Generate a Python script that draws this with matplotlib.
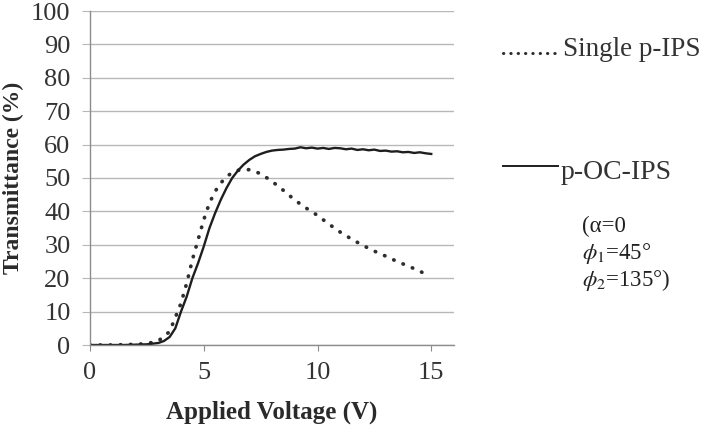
import matplotlib
matplotlib.use("Agg")
import matplotlib.pyplot as plt
from matplotlib.lines import Line2D

plt.rcParams['font.family'] = ['Liberation Serif', 'DejaVu Serif']
plt.rcParams['mathtext.fontset'] = 'stix'

# p-OC-IPS (solid)
oc_v = [0, 0.5, 1, 1.5, 2, 2.5, 3, 3.25, 3.5, 3.75, 4, 4.25, 4.5, 4.75, 5,
        5.25, 5.5, 5.75, 6, 6.25, 6.5, 6.75, 7, 7.25, 7.5, 7.75, 8, 8.25,
        8.5, 8.75, 9, 9.25, 9.5, 9.75, 10, 10.25, 10.5, 10.75, 11, 11.25,
        11.5, 11.75, 12, 12.25, 12.5, 12.75, 13, 13.25, 13.5, 13.75, 14,
        14.25, 14.5, 14.75, 15]
oc_t = [0, 0, 0, 0, 0.1, 0.2, 0.6, 1.2, 2.4, 5.0, 10.0, 14.5, 20.0, 24.5, 29.5,
        35.0, 39.5, 43.5, 47.0, 50.0, 52.2, 54.0, 55.4, 56.5, 57.2, 57.8, 58.2,
        58.4, 58.5, 58.7, 58.8, 59.2, 58.9, 59.1, 58.8, 59.0, 58.7, 59.0, 58.9,
        58.6, 58.8, 58.4, 58.6, 58.3, 58.5, 58.1, 58.2, 57.9, 58.0, 57.7, 57.8,
        57.5, 57.7, 57.4, 57.2]

# Single p-IPS (dotted)
sp_v = [0, 0.5, 1, 1.5, 2, 2.5, 3, 3.5, 4, 4.25, 4.5, 4.75, 5, 5.25, 5.5,
        5.75, 6, 6.25, 6.5, 7, 7.5, 8, 8.5, 9, 9.5, 10, 10.5, 11, 11.5, 12,
        12.5, 13, 13.5, 14, 14.5, 14.8]
sp_t = [0, 0, 0, 0.1, 0.2, 0.4, 1.2, 4.0, 12.5, 18.5, 25.5, 31.5, 37.5, 42.5,
        46.0, 48.5, 50.4, 51.6, 52.3, 52.5, 51.3, 49.0, 46.3, 43.4, 41.0, 38.8,
        36.2, 33.8, 31.7, 29.8, 28.1, 26.6, 25.0, 23.6, 22.1, 21.0]

xticks = [0, 5, 10, 15]
yticks = list(range(0, 101, 10))

fig = plt.figure(figsize=(7.04, 4.26), dpi=100)
ax = fig.add_axes([90 / 704, 1 - 345 / 426, 364 / 704, 334 / 426])

grid_c = '#b8b8b8'
ax.set_xlim(0, 16)
ax.set_ylim(0, 100)
ax.set_xticks(xticks)
ax.set_yticks(yticks)
ax.yaxis.grid(True, color=grid_c, linewidth=1.0)
ax.set_axisbelow(True)
for s in ['top', 'right']:
    ax.spines[s].set_visible(False)
for s in ['left', 'bottom']:
    ax.spines[s].set_color('#8c8c8c')
    ax.spines[s].set_linewidth(1.0)
ax.tick_params(axis='y', length=6, color=grid_c, pad=8, labelsize=19,
               labelcolor='#333333')
ax.tick_params(axis='x', length=4, color='#8c8c8c', pad=8, labelsize=19,
               labelcolor='#333333')

ax.plot(sp_v, sp_t, color='#2e2e2e', linewidth=2.7,
        linestyle=(0, (0.1, 2.6)), dash_capstyle='round')
ax.plot(oc_v, oc_t, color='#1e1e1e', linewidth=1.7)

ax.set_xlabel('Applied Voltage (V)', fontsize=18, fontweight='bold',
              color='#2a2a2a')
ax.set_ylabel('Transmittance (%)', fontsize=17, fontweight='bold',
              color='#2a2a2a')
ax.xaxis.set_label_coords(0.5, -0.165)
ax.yaxis.set_label_coords(-0.182, 0.5)

# legend keys
fig.add_artist(Line2D([503 / 704, 555 / 704], [1 - 53 / 426, 1 - 53 / 426],
                      color='#2e2e2e', linewidth=2.2,
                      linestyle=(0, (0.1, 2.3)), dash_capstyle='round'))
fig.add_artist(Line2D([503 / 704, 558 / 704], [1 - 166 / 426, 1 - 166 / 426],
                      color='#1e1e1e', linewidth=1.4))
fig.text(563 / 704, 1 - 50 / 426, 'Single p-IPS', fontsize=19.5, va='center',
         color='#333333')
fig.text(561 / 704, 1 - 172 / 426, 'p-OC-IPS', fontsize=20, va='center',
         color='#333333')
fig.text(582 / 704, 1 - 226 / 426, '(α=0', fontsize=16.5, va='center',
         color='#222222')
fig.text(582 / 704, 1 - 253 / 426, r'$\phi_{1}$=45°', fontsize=16.5,
         va='center', color='#222222')
fig.text(582 / 704, 1 - 280 / 426, r'$\phi_{2}$=135°)', fontsize=16.5,
         va='center', color='#222222')

fig.savefig('out.png', dpi=100)
